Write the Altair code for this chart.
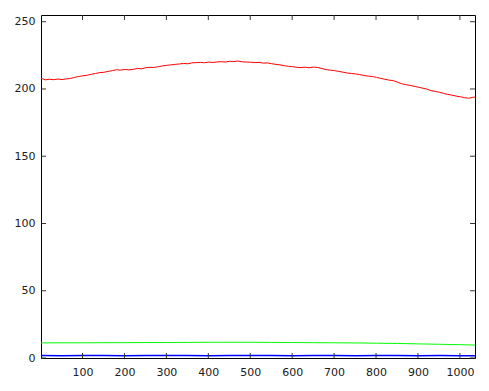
import altair as alt
import pandas as pd

red_x = list(range(1, 1032, 10)) + [1036]
red_y = [208.0, 206.8, 207.2, 206.9, 207.4, 207.0, 207.5, 207.8, 208.6, 209.3,
         209.8, 210.2, 210.9, 211.5, 212.2, 212.4, 213.1, 213.6, 214.3, 214.0,
         214.5, 214.2, 214.6, 215.3, 215.0, 215.8, 216.1, 216.0, 216.6, 217.2,
         217.6, 217.9, 218.3, 218.6, 219.0, 218.7, 219.4, 219.6, 219.8, 219.5,
         220.0, 219.7, 220.1, 220.3, 220.0, 220.6, 220.4, 220.8, 220.2, 220.0,
         219.9, 219.6, 219.8, 219.2, 219.4, 218.8, 218.3, 217.9, 217.3, 216.9,
         216.6, 216.1, 215.9, 216.2, 215.8, 216.3, 216.0, 215.2, 214.4, 214.0,
         213.6, 213.1, 212.5, 211.9, 211.5, 211.2, 210.7, 210.0, 209.6, 209.3,
         208.6, 207.9, 207.2, 206.6, 206.2, 205.1, 203.9, 203.2, 202.7, 202.0,
         201.3, 200.6, 199.9, 198.8, 198.2, 197.6, 196.7, 196.0, 195.4, 194.7,
         194.2, 193.6, 193.1, 193.8, 194.0]

gb_x = list(range(1, 1002, 50)) + [1036]
green_y = [11.2, 11.3, 11.3, 11.4, 11.4, 11.5, 11.5, 11.6, 11.7, 11.7, 11.7,
           11.6, 11.5, 11.4, 11.3, 11.2, 11.0, 10.8, 10.5, 10.2, 9.9, 9.6]
blue_y = [1.8, 1.7, 1.9, 1.8, 1.7, 1.8, 1.9, 1.8, 1.7, 1.8, 1.8,
          1.9, 1.7, 1.8, 1.8, 1.7, 1.8, 1.9, 1.7, 1.8, 1.7, 1.7]

x_ticks = [100, 200, 300, 400, 500, 600, 700, 800, 900, 1000]
y_ticks = [0, 50, 100, 150, 200, 250]

W, H = 434, 343
xs = alt.Scale(domain=[1, 1036], nice=False, zero=False)
ys = alt.Scale(domain=[0, 255], nice=False)

red = pd.DataFrame({"x": red_x, "y": red_y})
green = pd.DataFrame({"x": gb_x, "y": green_y})
blue = pd.DataFrame({"x": gb_x, "y": blue_y})

lab = dict(labelFont="DejaVu Sans", labelFontSize=11, labelColor="#202020",
           domain=False, ticks=False, grid=False, title=None, format="d")

def line(df, color, sw=1):
    return alt.Chart(df).mark_line(color=color, strokeWidth=sw, clip=True).encode(
        x=alt.X("x:Q", scale=xs, axis=alt.Axis(values=x_ticks, labelPadding=8, **lab)),
        y=alt.Y("y:Q", scale=ys, axis=alt.Axis(values=y_ticks, labelPadding=6, **lab)),
    )

xt = pd.DataFrame({"t": x_ticks})
yt = pd.DataFrame({"t": y_ticks})
tc = "#333333"
xtick_b = alt.Chart(xt).mark_rule(color=tc, strokeWidth=1).encode(
    x=alt.X("t:Q", scale=xs), y=alt.value(H), y2=alt.value(H - 5))
xtick_t = alt.Chart(xt).mark_rule(color=tc, strokeWidth=1).encode(
    x=alt.X("t:Q", scale=xs), y=alt.value(0), y2=alt.value(5))
ytick_l = alt.Chart(yt).mark_rule(color=tc, strokeWidth=1).encode(
    y=alt.Y("t:Q", scale=ys), x=alt.value(0), x2=alt.value(5))
ytick_r = alt.Chart(yt).mark_rule(color=tc, strokeWidth=1).encode(
    y=alt.Y("t:Q", scale=ys), x=alt.value(W - 5), x2=alt.value(W))

chart = alt.layer(
    line(red, "#ff0000"), line(green, "#00ff00"), line(blue, "#0000ff", 1.5),
    xtick_b, xtick_t, ytick_l, ytick_r,
).properties(
    width=W, height=H,
    autosize=alt.AutoSizeParams(type="none"),
    padding={"left": 33, "top": 7, "right": 6, "bottom": 25},
    background="white",
).configure_view(stroke="black", strokeWidth=1)

chart.save("out.html", embed_options={"renderer": "svg", "actions": False})
